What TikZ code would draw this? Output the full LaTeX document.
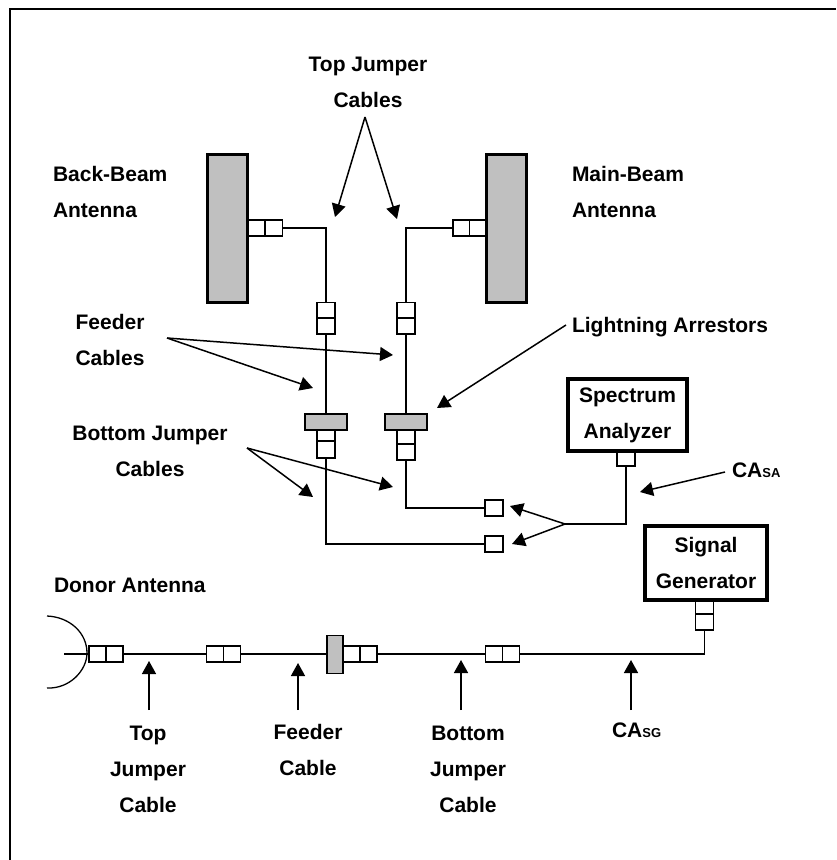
\documentclass[tikz,border=0pt]{standalone}
\usepackage{fontspec}
\setmainfont{Liberation Sans}
\usetikzlibrary{arrows.meta}
\definecolor{antgrey}{RGB}{192,192,192}
\newcommand{\smallsub}[1]{{\fontsize{13}{13}\selectfont #1}}
\tikzset{
  cell/.style={draw=black,fill=white,line width=1.5,inner sep=0,outer sep=0,minimum width=#1},
  hcell/.style={cell=17,minimum height=16},
  vcell/.style={cell=18,minimum height=16},
  grey/.style={draw=black,fill=antgrey,line width=1.5,inner sep=0,outer sep=0},
  antenna/.style={draw=black,fill=antgrey,line width=2.5,inner sep=0,outer sep=0,minimum width=40,minimum height=148},
  instr/.style={draw=black,fill=white,line width=4,inner sep=0,outer sep=0},
  cable/.style={line width=1.5,line join=miter},
  pointer/.style={line width=1.5,-{Triangle[length=13,width=14]}},
  lbl/.style={font=\fontsize{21}{36}\selectfont\bfseries,inner sep=0,outer sep=0,align=center,anchor=base},
  lbll/.style={lbl,align=left,anchor=base west},
}
\begin{document}
\begin{tikzpicture}[x=1pt,y=-1pt]
\useasboundingbox (0,0) rectangle (836,860);
\fill[white] (0,0) rectangle (836,860);
\draw[line width=2] (836,9) -- (10,9) -- (10,860);

% top connectors
\node[hcell] (bt1) at (256.5,228) {};
\node[hcell] (bt2) at (274,228) {};
\node[hcell] (mt1) at (461.5,228) {};
\node[hcell] (mt2) at (478,228) {};

% antennas
\node[antenna] (back) at (227.5,228.5) {};
\node[antenna] (main) at (506.5,228.5) {};

% feeder connectors
\node[vcell] (bf1) at (326,310.5) {};
\node[vcell] (bf2) at (326,326) {};
\node[vcell] (mf1) at (406,310.5) {};
\node[vcell] (mf2) at (406,326) {};

% bottom connectors
\node[vcell,minimum height=11] (bb1) at (326,435.5) {};
\node[vcell,minimum height=17] (bb2) at (326,449.5) {};
\node[vcell,minimum height=14] (mb1) at (406,437) {};
\node[vcell,minimum height=16] (mb2) at (406,452) {};

% lightning arrestors
\node[grey,minimum width=42,minimum height=16] (bla) at (326,422) {};
\node[grey,minimum width=42,minimum height=16] (mla) at (406,422) {};

% free connectors near analyzer
\node[vcell] (sel1) at (494,508) {};
\node[vcell] (sel2) at (494,544) {};

% instruments
\node[cell=18,minimum height=16] (saport) at (626,458) {};
\node[instr,minimum width=119,minimum height=72,font=\fontsize{21}{36}\selectfont\bfseries,align=center] (sa) at (627.5,415) {Spectrum\\Analyzer};
\node[vcell] (sg1) at (704.5,605.5) {};
\node[vcell] (sg2) at (704.5,622) {};
\node[instr,minimum width=122,minimum height=74,font=\fontsize{21}{36}\selectfont\bfseries,align=center] (sg) at (706,563) {Signal\\Generator};

% donor line
\coordinate (dfeed) at (64,654);
\coordinate (dtop) at (47,616);
\coordinate (dbot) at (47,688);
\node[hcell] (d1a) at (97.5,654) {};
\node[hcell] (d1b) at (114.5,654) {};
\node[hcell] (d2a) at (215,654) {};
\node[hcell] (d2b) at (232,654) {};
\node[hcell] (d3a) at (351.5,654) {};
\node[hcell] (d3b) at (368.5,654) {};
\node[grey,minimum width=16,minimum height=38] (dla) at (335,654.5) {};
\node[hcell] (d4a) at (494,654) {};
\node[hcell] (d4b) at (511,654) {};

% cables
\draw[cable] (bt2.east) -| (bf1.north);
\draw[cable] (mt1.west) -| (mf1.north);
\draw[cable] (bf2.south) -- (bla.north);
\draw[cable] (mf2.south) -- (mla.north);
\draw[cable] (bb2.south) |- (sel2.west);
\draw[cable] (mb2.south) |- (sel1.west);
\coordinate (fork) at (565,524);
\draw[cable] (saport.south) |- (fork);
\draw[cable] (dfeed) -- (d1a.west);
\draw[cable] (d1b.east) -- (d2a.west);
\draw[cable] (d2b.east) -- (d2b.east -| dla.west);
\draw[cable] (d3b.east) -- (d4a.west);
\draw[cable] (d4b.east) -| (sg2.south);

% donor dish
\draw[line width=1.3] (dtop) .. controls (70,617) and (87,633) .. (87,653)
  .. controls (87,670) and (70,689) .. (dbot);

% labels
\node[lbl] (ltop) at (368,107) {Top Jumper\\Cables};
\node[lbll] (lback) at (53,217) {Back-Beam\\Antenna};
\node[lbll] (lmain) at (572,217) {Main-Beam\\Antenna};
\node[lbl] (lfeed) at (110,365) {Feeder\\Cables};
\node[lbll] (llight) at (572,332) {Lightning Arrestors};
\node[lbl] (lbot) at (150,476) {Bottom Jumper\\Cables};
\node[lbll] (lsa) at (732,477) {CA\smallsub{SA}};
\node[lbll] (ldonor) at (54,592) {Donor Antenna};
\node[lbl] (lb1) at (148,812) {Top\\Jumper\\Cable};
\node[lbl] (lb2) at (308,775) {Feeder\\Cable};
\node[lbl] (lb3) at (468,812) {Bottom\\Jumper\\Cable};
\node[lbll] (lsg) at (612,737) {CA\smallsub{SG}};

% pointers
\coordinate (topfork) at (365,117);
\coordinate (tipA) at (335,217);
\coordinate (tipB) at (397,219);
\draw[pointer] (topfork) -- (tipA);
\draw[pointer] (topfork) -- (tipB);
\coordinate (feedfork) at (167,338);
\coordinate (tipC) at (393,355);
\coordinate (tipD) at (313,388);
\draw[pointer] (feedfork) -- (tipC);
\draw[pointer] (feedfork) -- (tipD);
\coordinate (botfork) at (247,448);
\coordinate (tipE) at (393,487);
\coordinate (tipF) at (313,497);
\draw[pointer] (botfork) -- (tipE);
\draw[pointer] (botfork) -- (tipF);
\coordinate (lightfrom) at (566,325);
\coordinate (tipG) at (437,408);
\draw[pointer] (lightfrom) -- (tipG);
\coordinate (tipH) at (510,506);
\coordinate (tipI) at (512,544);
\draw[pointer] (fork) -- (tipH);
\draw[pointer] (fork) -- (tipI);
\coordinate (safrom) at (725,472);
\coordinate (tipJ) at (640,492);
\draw[pointer] (safrom) -- (tipJ);
\foreach \n/\x/\y in {a/149/661,b/298/663,c/461/660,d/631/660}{
  \coordinate (up\n) at (\x,710);
  \coordinate (uptip\n) at (\x,\y);
  \draw[pointer] (up\n) -- (uptip\n);
}
\end{tikzpicture}
\end{document}
